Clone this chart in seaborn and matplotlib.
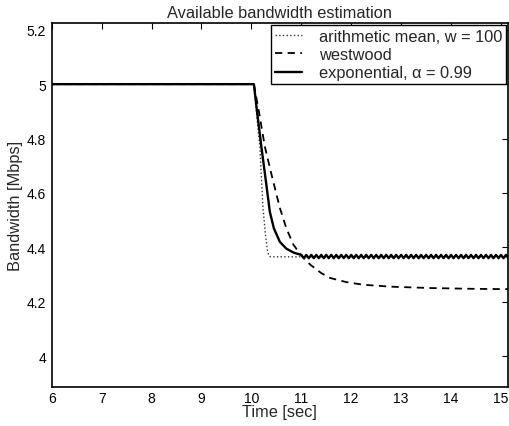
import matplotlib
matplotlib.use("Agg")
import matplotlib.pyplot as plt
import seaborn as sns

sns.set_style("white")
plt.rcParams['font.family'] = ['Liberation Sans', 'DejaVu Sans']

title = "Available bandwidth estimation"
xlabel = "Time [sec]"
ylabel = "Bandwidth [Mbps]"
labels = ["arithmetic mean, w = 100", "westwood", "exponential, \u03b1 = 0.99"]
xticks = [6, 7, 8, 9, 10, 11, 12, 13, 14, 15]
yticks = [4.0, 4.2, 4.4, 4.6, 4.8, 5.0, 5.2]

mean_t = [6.0, 10.05, 10.11, 10.17, 10.23, 10.28, 10.32, 10.35, 10.38, 15.15]
mean_bw = [5.0, 5.0, 4.88, 4.77, 4.55, 4.45, 4.39, 4.37, 4.365, 4.365]

west_t = [6.0, 10.05, 10.15, 10.27, 10.4, 10.57, 10.7, 10.84, 11.0, 11.18, 11.4,
          11.58, 11.9, 12.25, 12.8, 13.6, 14.5, 15.15]
west_bw = [5.0, 5.0, 4.9, 4.77, 4.67, 4.545, 4.47, 4.41, 4.37, 4.336, 4.305,
           4.287, 4.272, 4.262, 4.255, 4.25, 4.247, 4.246]

exp_t = [6.0, 10.05, 10.1, 10.2, 10.3, 10.37, 10.45, 10.57, 10.7, 10.85,
         11.00, 11.05, 11.10, 11.15, 11.20, 11.25, 11.30, 11.35, 11.40, 11.45,
         11.50, 11.55, 11.60, 11.65, 11.70, 11.75, 11.80, 11.85, 11.90, 11.95,
         12.00, 12.05, 12.10, 12.15, 12.20, 12.25, 12.30, 12.35, 12.40, 12.45,
         12.50, 12.55, 12.60, 12.65, 12.70, 12.75, 12.80, 12.85, 12.90, 12.95,
         13.00, 13.05, 13.10, 13.15, 13.20, 13.25, 13.30, 13.35, 13.40, 13.45,
         13.50, 13.55, 13.60, 13.65, 13.70, 13.75, 13.80, 13.85, 13.90, 13.95,
         14.00, 14.05, 14.10, 14.15, 14.20, 14.25, 14.30, 14.35, 14.40, 14.45,
         14.50, 14.55, 14.60, 14.65, 14.70, 14.75, 14.80, 14.85, 14.90, 14.95,
         15.00, 15.05, 15.10, 15.15]
exp_bw = [5.0, 5.0, 4.92, 4.77, 4.63, 4.53, 4.47, 4.42, 4.395, 4.38,
          4.372, 4.360, 4.372, 4.360, 4.372, 4.360, 4.372, 4.360, 4.372, 4.360,
          4.372, 4.360, 4.372, 4.360, 4.372, 4.360, 4.372, 4.360, 4.372, 4.360,
          4.372, 4.360, 4.372, 4.360, 4.372, 4.360, 4.372, 4.360, 4.372, 4.360,
          4.372, 4.360, 4.372, 4.360, 4.372, 4.360, 4.372, 4.360, 4.372, 4.360,
          4.372, 4.360, 4.372, 4.360, 4.372, 4.360, 4.372, 4.360, 4.372, 4.360,
          4.372, 4.360, 4.372, 4.360, 4.372, 4.360, 4.372, 4.360, 4.372, 4.360,
          4.372, 4.360, 4.372, 4.360, 4.372, 4.360, 4.372, 4.360, 4.372, 4.360,
          4.372, 4.360, 4.372, 4.360, 4.372, 4.360, 4.372, 4.360, 4.372, 4.360,
          4.372, 4.360, 4.372, 4.360]

fig = plt.figure(figsize=(5.10, 4.27), dpi=100)
ax = fig.add_axes([0.1014, 0.0913, 0.8946, 0.8525])

sns.lineplot(x=mean_t, y=mean_bw, ax=ax, color='#333333', linestyle=':', linewidth=1.0,
             sort=False, estimator=None, label=labels[0])
sns.lineplot(x=west_t, y=west_bw, ax=ax, color='black', linestyle=(0, (4, 3)), linewidth=1.3,
             sort=False, estimator=None, label=labels[1])
sns.lineplot(x=exp_t, y=exp_bw, ax=ax, color='black', linestyle='-', linewidth=1.7,
             sort=False, estimator=None, label=labels[2])

ax.set_xlim(6, 15.14)
ax.set_ylim(3.886, 5.225)
ax.set_xticks(xticks)
ax.set_xticklabels([str(v) for v in xticks])
ax.set_yticks(yticks)
ax.set_yticklabels(["4", "4.2", "4.4", "4.6", "4.8", "5", "5.2"])
ax.tick_params(direction='in', length=4, width=0.8, top=True, right=True,
               labelsize=10, colors='black')
ax.tick_params(axis='x', pad=3)
ax.tick_params(axis='y', pad=4)
for s in ax.spines.values():
    s.set_visible(True)
    s.set_color('black')
    s.set_linewidth(1.2)

ax.set_title(title, fontsize=11.8, pad=4)
ax.set_xlabel(xlabel, fontsize=11.8, labelpad=-1)
ax.set_ylabel(ylabel, fontsize=11.8, labelpad=3)

leg = ax.legend(loc='upper right', fontsize=11.8, frameon=True, fancybox=False,
                edgecolor='black', framealpha=1, borderaxespad=0.15,
                handlelength=1.7, borderpad=0.2, labelspacing=0.2, handletextpad=1.0)
leg.get_frame().set_linewidth(1.0)

fig.savefig("out.png", dpi=100)
